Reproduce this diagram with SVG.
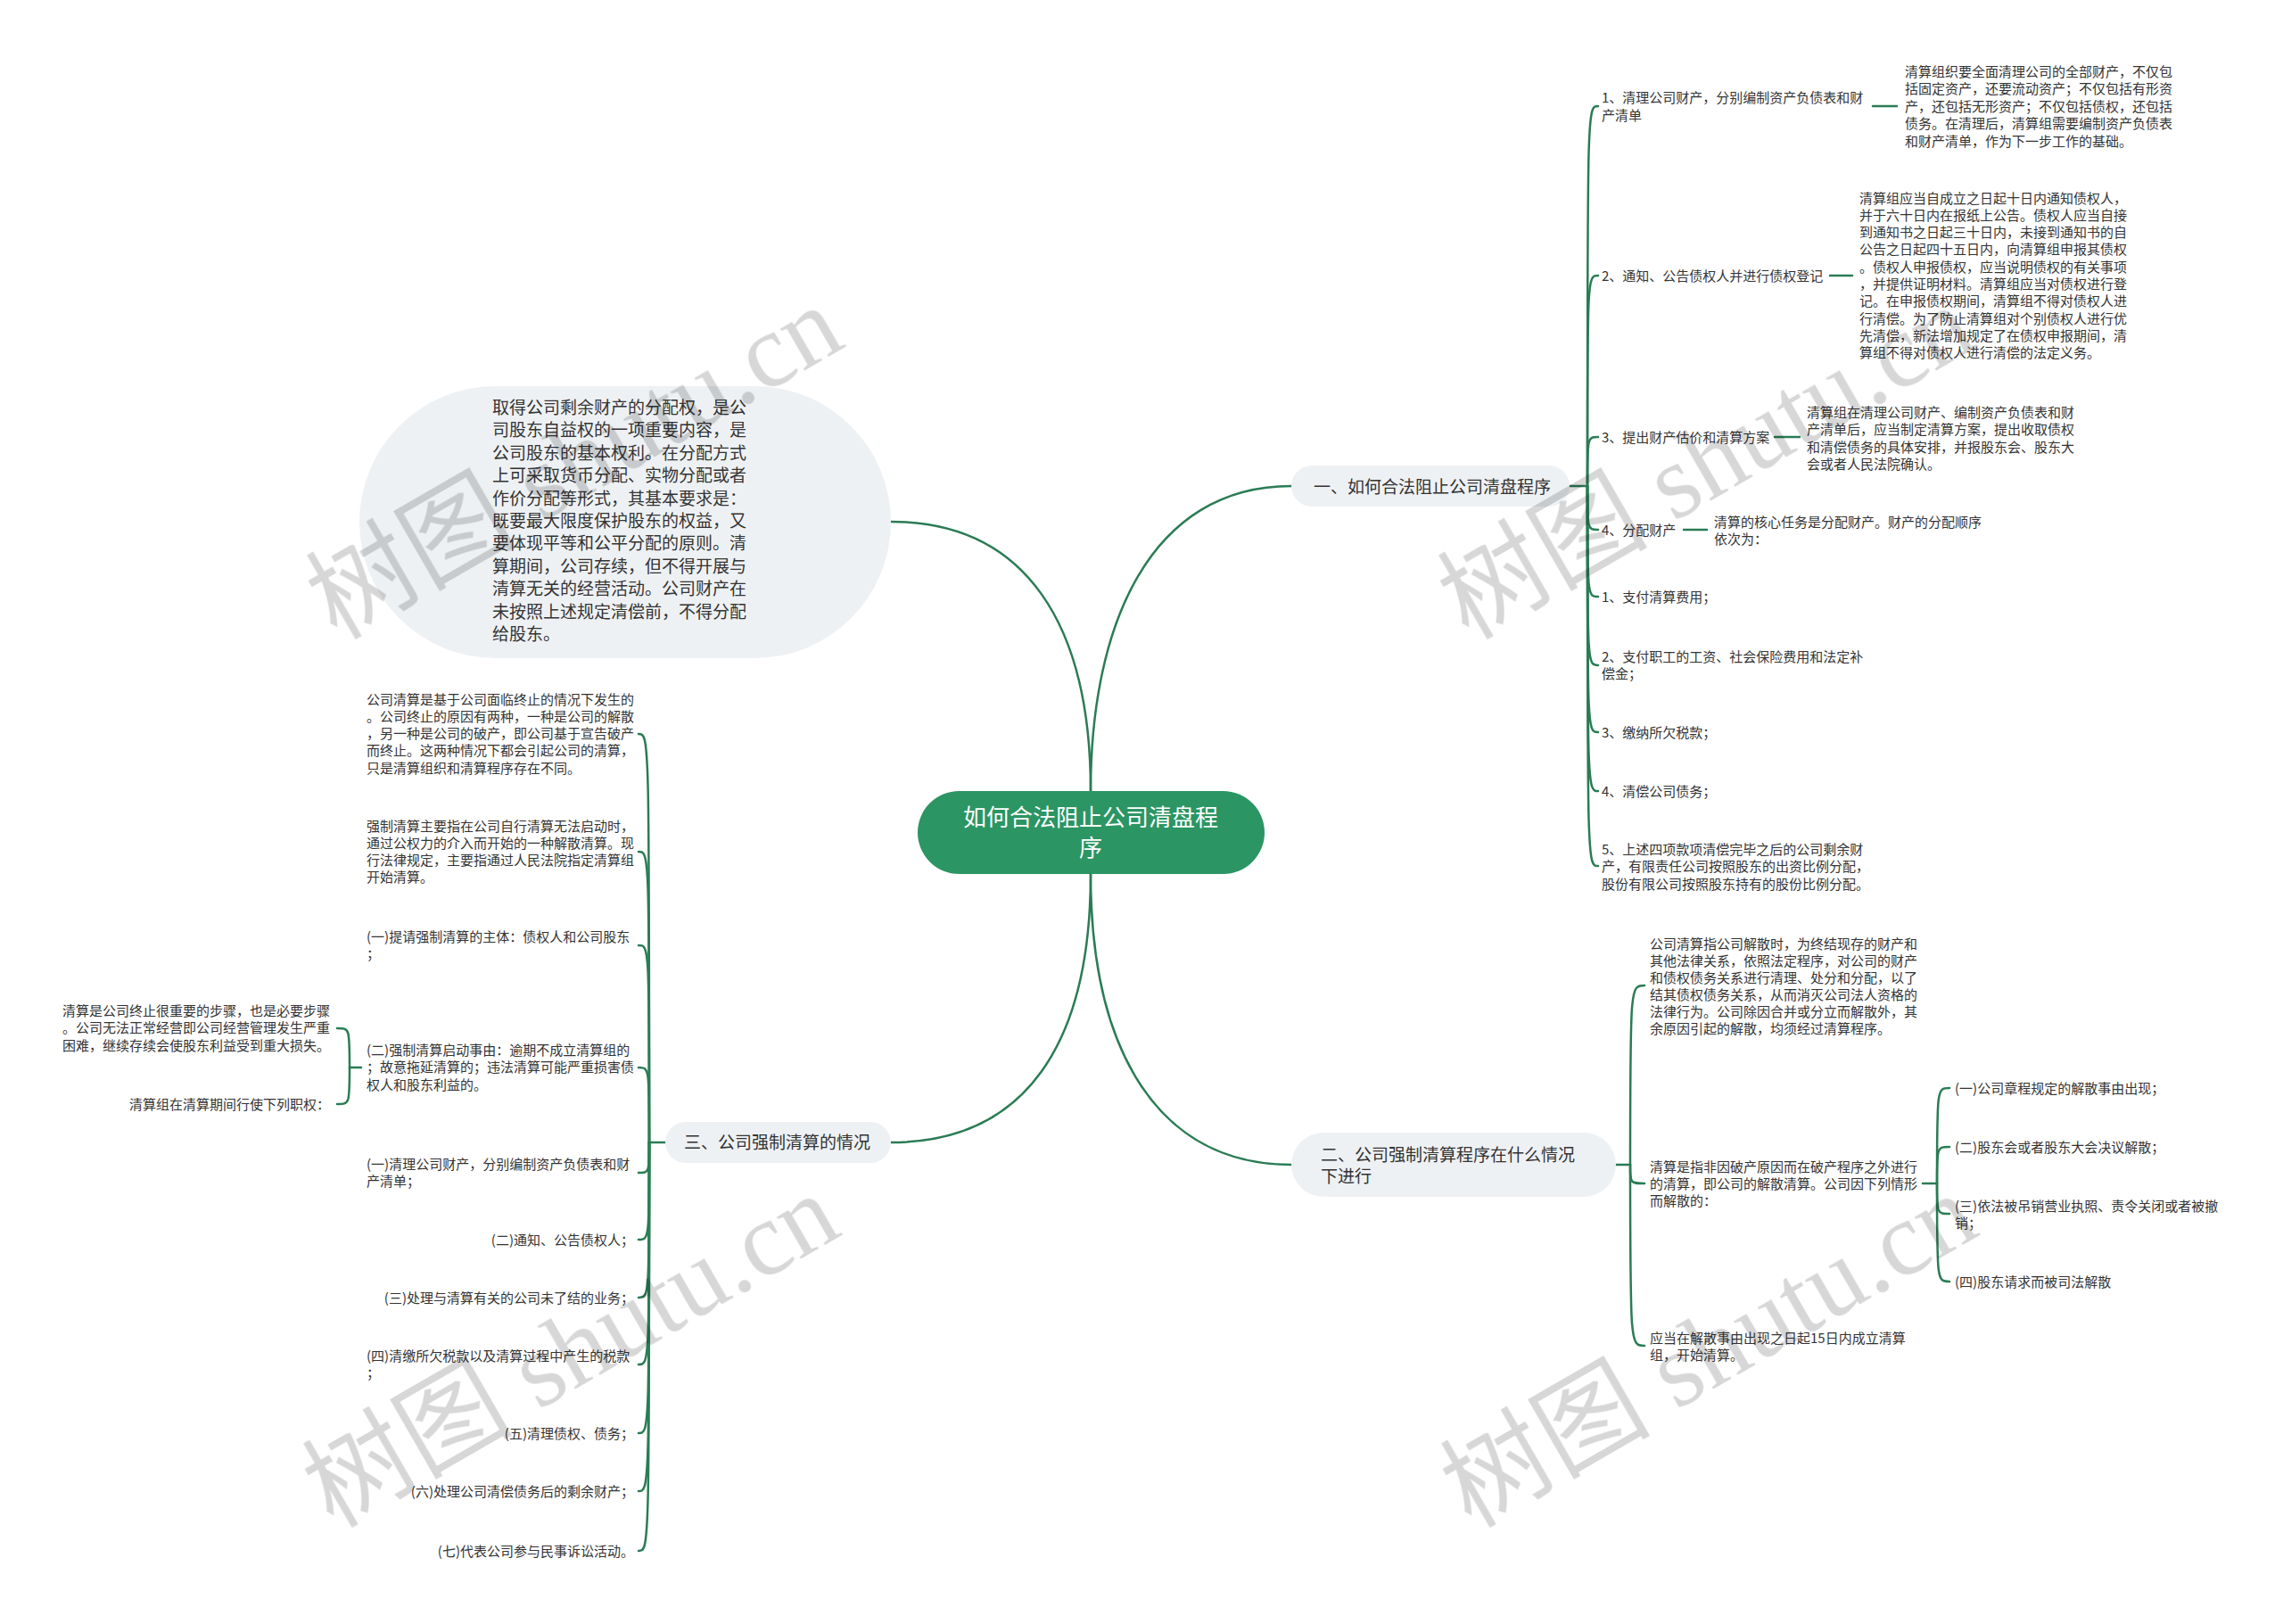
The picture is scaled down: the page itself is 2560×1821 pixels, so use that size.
<svg xmlns="http://www.w3.org/2000/svg" width="2560" height="1821" viewBox="0 0 2560 1821">
<style>
.t{font-family:"Noto Sans CJK SC","Noto Sans",sans-serif;fill:#333;font-size:15px}
.b{font-family:"Noto Sans CJK SC","Noto Sans",sans-serif;fill:#333;font-size:19px}
.c{font-family:"Noto Sans CJK SC","Noto Sans",sans-serif;fill:#fff;font-size:26px}
.e{text-anchor:end}
.ln{fill:none;stroke:#2a7c55;stroke-width:2.5;stroke-linecap:round}
.pill{fill:#eef1f4}
.wm{font-family:"Liberation Serif","Noto Sans CJK SC",serif;font-size:118px;fill:#000;opacity:0.16}
</style>
<rect width="2560" height="1821" fill="#fff"/>
<g id="connectors" class="ln">
<path d="M1223 887 C1223 700 1290 545 1448 545"/>
<path d="M1223 887 C1223 700 1150 585 999 585"/>
<path d="M1223 980 C1223 1170 1150 1281 999 1281"/>
<path d="M1223 980 C1223 1180 1300 1306 1448 1306"/>
<path d="M1760 545 H1780"/>
<path d="M1780 545 C1780 119 1780 119 1792 119"/>
<path d="M1780 545 C1780 309 1780 309 1792 309"/>
<path d="M1780 545 C1780 490 1780 490 1792 490"/>
<path d="M1780 545 C1780 594 1780 594 1792 594"/>
<path d="M1780 545 C1780 669 1780 669 1792 669"/>
<path d="M1780 545 C1780 746 1780 746 1792 746"/>
<path d="M1780 545 C1780 821 1780 821 1792 821"/>
<path d="M1780 545 C1780 887 1780 887 1792 887"/>
<path d="M1780 545 C1780 971 1780 971 1792 971"/>
<path d="M2100 119 H2127"/>
<path d="M2052 309 H2077"/>
<path d="M1990 490 H2018"/>
<path d="M1888 594 H1914"/>
<path d="M1812 1306 H1828"/>
<path d="M1828 1306 C1828 1105 1828 1105 1844 1105"/>
<path d="M1828 1306 C1828 1327 1828 1327 1844 1327"/>
<path d="M1828 1306 C1828 1509 1828 1509 1844 1509"/>
<path d="M2156 1327 H2172"/>
<path d="M2172 1327 C2172 1220 2172 1220 2186 1220"/>
<path d="M2172 1327 C2172 1286 2172 1286 2186 1286"/>
<path d="M2172 1327 C2172 1361 2172 1361 2186 1361"/>
<path d="M2172 1327 C2172 1437 2172 1437 2186 1437"/>
<path d="M746 1281 H728"/>
<path d="M728 1281 C728 823 728 823 716 823"/>
<path d="M728 1281 C728 955 728 955 716 955"/>
<path d="M728 1281 C728 1060 728 1060 716 1060"/>
<path d="M728 1281 C728 1197 728 1197 716 1197"/>
<path d="M728 1281 C728 1315 728 1315 716 1315"/>
<path d="M728 1281 C728 1390 728 1390 716 1390"/>
<path d="M728 1281 C728 1455 728 1455 716 1455"/>
<path d="M728 1281 C728 1530 728 1530 716 1530"/>
<path d="M728 1281 C728 1607 728 1607 716 1607"/>
<path d="M728 1281 C728 1672 728 1672 716 1672"/>
<path d="M728 1281 C728 1739 728 1739 716 1739"/>
<path d="M405 1197 H392"/>
<path d="M392 1197 C392 1153 392 1153 378 1153"/>
<path d="M392 1197 C392 1238 392 1238 378 1238"/>
</g>
<g id="center">
<rect x="1029" y="887" width="389" height="93" rx="46.5" fill="#2b9563"/>
<text class="c" x="1223" text-anchor="middle"><tspan x="1223" y="926">如何合法阻止公司清盘程</tspan><tspan x="1223" y="960">序</tspan></text>
</g>
<g id="b1">
<rect class="pill" x="1448" y="522" width="312" height="46" rx="23"/>
<text class="b" x="1473" y="553">一、如何合法阻止公司清盘程序</text>
</g>
<g id="b1c1"><text class="t"><tspan x="1796" y="114.5">1、清理公司财产，分别编制资产负债表和财</tspan><tspan x="1796" y="134.5">产清单</tspan></text></g>
<g id="b1c1d"><text class="t"><tspan x="2136" y="85.5">清算组织要全面清理公司的全部财产，不仅包</tspan><tspan x="2136" y="105">括固定资产，还要流动资产；不仅包括有形资</tspan><tspan x="2136" y="124.7">产，还包括无形资产；不仅包括债权，还包括</tspan><tspan x="2136" y="144.3">债务。在清理后，清算组需要编制资产负债表</tspan><tspan x="2136" y="164">和财产清单，作为下一步工作的基础。</tspan></text></g>
<g id="b1c2"><text class="t" x="1796" y="314.5">2、通知、公告债权人并进行债权登记</text></g>
<g id="b1c2d"><text class="t"><tspan x="2085" y="227.5">清算组应当自成立之日起十日内通知债权人，</tspan><tspan x="2085" y="246.8">并于六十日内在报纸上公告。债权人应当自接</tspan><tspan x="2085" y="266.1">到通知书之日起三十日内，未接到通知书的自</tspan><tspan x="2085" y="285.4">公告之日起四十五日内，向清算组申报其债权</tspan><tspan x="2085" y="304.7">。债权人申报债权，应当说明债权的有关事项</tspan><tspan x="2085" y="324">，并提供证明材料。清算组应当对债权进行登</tspan><tspan x="2085" y="343.3">记。在申报债权期间，清算组不得对债权人进</tspan><tspan x="2085" y="362.6">行清偿。为了防止清算组对个别债权人进行优</tspan><tspan x="2085" y="381.9">先清偿，新法增加规定了在债权申报期间，清</tspan><tspan x="2085" y="401.2">算组不得对债权人进行清偿的法定义务。</tspan></text></g>
<g id="b1c3"><text class="t" x="1796" y="495.5">3、提出财产估价和清算方案</text></g>
<g id="b1c3d"><text class="t"><tspan x="2026" y="467.5">清算组在清理公司财产、编制资产负债表和财</tspan><tspan x="2026" y="487">产清单后，应当制定清算方案，提出收取债权</tspan><tspan x="2026" y="506.5">和清偿债务的具体安排，并报股东会、股东大</tspan><tspan x="2026" y="526">会或者人民法院确认。</tspan></text></g>
<g id="b1c4"><text class="t" x="1796" y="599.5">4、分配财产</text></g>
<g id="b1c4d"><text class="t"><tspan x="1922" y="590.5">清算的核心任务是分配财产。财产的分配顺序</tspan><tspan x="1922" y="610">依次为：</tspan></text></g>
<g id="b1c5"><text class="t" x="1796" y="674.5">1、支付清算费用；</text></g>
<g id="b1c6"><text class="t"><tspan x="1796" y="741.5">2、支付职工的工资、社会保险费用和法定补</tspan><tspan x="1796" y="761">偿金；</tspan></text></g>
<g id="b1c7"><text class="t" x="1796" y="826.5">3、缴纳所欠税款；</text></g>
<g id="b1c8"><text class="t" x="1796" y="892.5">4、清偿公司债务；</text></g>
<g id="b1c9"><text class="t"><tspan x="1796" y="957.5">5、上述四项款项清偿完毕之后的公司剩余财</tspan><tspan x="1796" y="977">产，有限责任公司按照股东的出资比例分配，</tspan><tspan x="1796" y="996.5">股份有限公司按照股东持有的股份比例分配。</tspan></text></g>
<g id="b2">
<rect class="pill" x="1448" y="1270" width="364" height="72" rx="36"/>
<text class="b"><tspan x="1481" y="1302">二、公司强制清算程序在什么情况</tspan><tspan x="1481" y="1326">下进行</tspan></text>
</g>
<g id="b2c1"><text class="t"><tspan x="1850" y="1063.5">公司清算指公司解散时，为终结现存的财产和</tspan><tspan x="1850" y="1082.5">其他法律关系，依照法定程序，对公司的财产</tspan><tspan x="1850" y="1101.5">和债权债务关系进行清理、处分和分配，以了</tspan><tspan x="1850" y="1120.5">结其债权债务关系，从而消灭公司法人资格的</tspan><tspan x="1850" y="1139.5">法律行为。公司除因合并或分立而解散外，其</tspan><tspan x="1850" y="1158.5">余原因引起的解散，均须经过清算程序。</tspan></text></g>
<g id="b2c2"><text class="t"><tspan x="1850" y="1313.5">清算是指非因破产原因而在破产程序之外进行</tspan><tspan x="1850" y="1332.5">的清算，即公司的解散清算。公司因下列情形</tspan><tspan x="1850" y="1352">而解散的：</tspan></text></g>
<g id="b2c3"><text class="t"><tspan x="1850" y="1505.5">应当在解散事由出现之日起15日内成立清算</tspan><tspan x="1850" y="1524.5">组，开始清算。</tspan></text></g>
<g id="b2s1"><text class="t" x="2192" y="1225.5">(一)公司章程规定的解散事由出现；</text></g>
<g id="b2s2"><text class="t" x="2192" y="1291.5">(二)股东会或者股东大会决议解散；</text></g>
<g id="b2s3"><text class="t"><tspan x="2192" y="1357.5">(三)依法被吊销营业执照、责令关闭或者被撤</tspan><tspan x="2192" y="1377">销；</tspan></text></g>
<g id="b2s4"><text class="t" x="2192" y="1442.5">(四)股东请求而被司法解散</text></g>
<g id="oval">
<rect class="pill" x="403" y="433" width="596" height="305" rx="152.5"/>
<text class="b"><tspan x="552" y="464">取得公司剩余财产的分配权，是公</tspan><tspan x="552" y="489.4">司股东自益权的一项重要内容，是</tspan><tspan x="552" y="514.8">公司股东的基本权利。在分配方式</tspan><tspan x="552" y="540.2">上可采取货币分配、实物分配或者</tspan><tspan x="552" y="565.6">作价分配等形式，其基本要求是：</tspan><tspan x="552" y="591">既要最大限度保护股东的权益，又</tspan><tspan x="552" y="616.4">要体现平等和公平分配的原则。清</tspan><tspan x="552" y="641.8">算期间，公司存续，但不得开展与</tspan><tspan x="552" y="667.2">清算无关的经营活动。公司财产在</tspan><tspan x="552" y="692.6">未按照上述规定清偿前，不得分配</tspan><tspan x="552" y="718">给股东。</tspan></text>
</g>
<g id="b3">
<rect class="pill" x="746" y="1258" width="253" height="46" rx="23"/>
<text class="b" x="767" y="1288">三、公司强制清算的情况</text>
</g>
<g id="l1"><text class="t"><tspan x="411" y="789.5">公司清算是基于公司面临终止的情况下发生的</tspan><tspan x="411" y="808.8">。公司终止的原因有两种，一种是公司的解散</tspan><tspan x="411" y="828.1">，另一种是公司的破产，即公司基于宣告破产</tspan><tspan x="411" y="847.4">而终止。这两种情况下都会引起公司的清算，</tspan><tspan x="411" y="866.7">只是清算组织和清算程序存在不同。</tspan></text></g>
<g id="l2"><text class="t"><tspan x="411" y="931.5">强制清算主要指在公司自行清算无法启动时，</tspan><tspan x="411" y="950.8">通过公权力的介入而开始的一种解散清算。现</tspan><tspan x="411" y="970.1">行法律规定，主要指通过人民法院指定清算组</tspan><tspan x="411" y="989.4">开始清算。</tspan></text></g>
<g id="l3"><text class="t"><tspan x="411" y="1055.5">(一)提请强制清算的主体：债权人和公司股东</tspan><tspan x="411" y="1074.5">；</tspan></text></g>
<g id="l4"><text class="t"><tspan x="411" y="1182.5">(二)强制清算启动事由：逾期不成立清算组的</tspan><tspan x="411" y="1202">；故意拖延清算的；违法清算可能严重损害债</tspan><tspan x="411" y="1221.5">权人和股东利益的。</tspan></text></g>
<g id="l4s1"><text class="t"><tspan x="70" y="1138.5">清算是公司终止很重要的步骤，也是必要步骤</tspan><tspan x="70" y="1158">。公司无法正常经营即公司经营管理发生严重</tspan><tspan x="70" y="1177.5">困难，继续存续会使股东利益受到重大损失。</tspan></text></g>
<g id="l4s2"><text class="t e" x="370" y="1243.5">清算组在清算期间行使下列职权：</text></g>
<g id="l5"><text class="t"><tspan x="411" y="1310.5">(一)清理公司财产，分别编制资产负债表和财</tspan><tspan x="411" y="1330">产清单；</tspan></text></g>
<g id="l6"><text class="t e" x="711" y="1395.5">(二)通知、公告债权人；</text></g>
<g id="l7"><text class="t e" x="711" y="1460.5">(三)处理与清算有关的公司未了结的业务；</text></g>
<g id="l8"><text class="t"><tspan x="411" y="1525.5">(四)清缴所欠税款以及清算过程中产生的税款</tspan><tspan x="411" y="1545">；</tspan></text></g>
<g id="l9"><text class="t e" x="711" y="1612.5">(五)清理债权、债务；</text></g>
<g id="l10"><text class="t e" x="711" y="1677.5">(六)处理公司清偿债务后的剩余财产；</text></g>
<g id="l11"><text class="t e" x="711" y="1744.5">(七)代表公司参与民事诉讼活动。</text></g>
<g id="watermarks" class="wm" text-anchor="middle">
<text transform="translate(664 553) rotate(-30)">树图 shutu.cn</text>
<text transform="translate(1933 553) rotate(-30)">树图 shutu.cn</text>
<text transform="translate(660 1549) rotate(-30)">树图 shutu.cn</text>
<text transform="translate(1936 1549) rotate(-30)">树图 shutu.cn</text>
</g>
</svg>
